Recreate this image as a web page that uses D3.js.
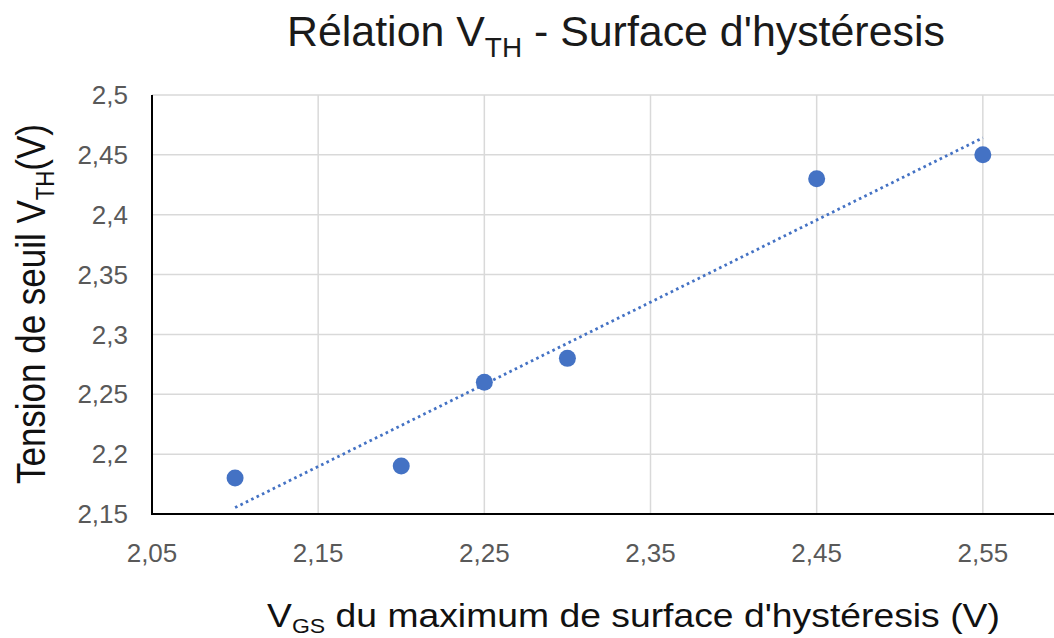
<!DOCTYPE html>
<html>
<head>
<meta charset="utf-8">
<script src="https://cdn.jsdelivr.net/npm/d3@7"></script>
<style>
  html, body { margin: 0; padding: 0; background: #fff; }
  svg { display: block; }
  text { font-family: "Liberation Sans", Arial, sans-serif; }
</style>
</head>
<body>
<svg id="chart" width="1054" height="638"></svg>
<script>
// ---- data ----
const xValues = [2.10, 2.20, 2.25, 2.30, 2.45, 2.55];
const yValues = [2.18, 2.19, 2.26, 2.28, 2.43, 2.45];
const xTicks = [2.05, 2.15, 2.25, 2.35, 2.45, 2.55, 2.65];
const yTicks = [2.15, 2.2, 2.25, 2.3, 2.35, 2.4, 2.45, 2.5];
const fmt = v => String(+v.toFixed(2)).replace(".", ",");

(function () {
const svg = d3.select("#chart");
const W = 1054, H = 638;
const pLeft = 152, pTop = 95, pBottom = 514, pRightFull = 1149;

const x = d3.scaleLinear().domain([2.05, 2.65]).range([pLeft, pRightFull]);
const y = d3.scaleLinear().domain([2.15, 2.5]).range([pBottom, pTop]);

svg.append("defs").append("clipPath").attr("id", "plotclip")
  .append("rect").attr("x", pLeft).attr("y", pTop - 2).attr("width", W - pLeft).attr("height", pBottom - pTop + 4);

const g = svg.append("g").attr("clip-path", "url(#plotclip)");

// grid lines
g.selectAll("line.hgrid").data(yTicks.filter(t => t > 2.15)).join("line")
  .attr("x1", pLeft).attr("x2", pRightFull)
  .attr("y1", d => y(d)).attr("y2", d => y(d))
  .attr("stroke", "#d9d9d9").attr("stroke-width", 1.5);
g.selectAll("line.vgrid").data(xTicks.filter(t => t > 2.05)).join("line")
  .attr("x1", d => x(d)).attr("x2", d => x(d))
  .attr("y1", pTop).attr("y2", pBottom)
  .attr("stroke", "#d9d9d9").attr("stroke-width", 1.5);

// trendline (least squares)
const mx = d3.mean(xValues), my = d3.mean(yValues);
const sxy = d3.sum(xValues, (v, i) => (v - mx) * (yValues[i] - my));
const sxx = d3.sum(xValues, v => (v - mx) * (v - mx));
const slope = sxy / sxx, icpt = my - slope * mx;
const x0 = d3.min(xValues), x1 = d3.max(xValues);
g.append("line")
  .attr("x1", x(x0)).attr("y1", y(slope * x0 + icpt))
  .attr("x2", x(x1)).attr("y2", y(slope * x1 + icpt))
  .attr("stroke", "#4472c4").attr("stroke-width", 2.8)
  .attr("stroke-dasharray", "2.6,3.4");

// points
g.selectAll("circle").data(xValues.map((v, i) => [v, yValues[i]])).join("circle")
  .attr("cx", d => x(d[0])).attr("cy", d => y(d[1]))
  .attr("r", 8.5).attr("fill", "#4472c4");

// axes lines
svg.append("line").attr("x1", pLeft).attr("x2", pLeft).attr("y1", pTop).attr("y2", pBottom + 1)
  .attr("stroke", "#000").attr("stroke-width", 2);
svg.append("line").attr("x1", pLeft - 1).attr("x2", W).attr("y1", pBottom).attr("y2", pBottom)
  .attr("stroke", "#000").attr("stroke-width", 2);

// tick labels
svg.selectAll("text.ytick").data(yTicks).join("text")
  .attr("class", "ytick")
  .attr("x", 128).attr("y", d => y(d)).attr("dy", "0.35em")
  .attr("text-anchor", "end").attr("font-size", 26).attr("fill", "#595959")
  .text(fmt);
svg.selectAll("text.xtick").data(xTicks.filter(t => x(t) < W - 20)).join("text")
  .attr("class", "xtick")
  .attr("x", d => x(d)).attr("y", 562)
  .attr("text-anchor", "middle").attr("font-size", 26).attr("fill", "#595959")
  .text(fmt);

// helper to squeeze text horizontally to target width
function fitText(sel, targetW, ax, ay, rotate) {
  const w = sel.node().getComputedTextLength();
  const s = targetW / w;
  sel.attr("transform", `translate(${ax},${ay})${rotate ? " rotate(-90)" : ""} scale(${s},1)`);
}

// title
const title = svg.append("text").attr("x", 0).attr("y", 0)
  .attr("font-size", 43).attr("fill", "#1a1a1a");
title.append("tspan").text("Rélation V");
title.append("tspan").attr("font-size", 28).attr("dy", 11).text("TH");
title.append("tspan").attr("dy", -11).text(" - Surface d'hystéresis");
fitText(title, 658, 287, 46, false);

// y axis title
const yt = svg.append("text").attr("x", 0).attr("y", 0)
  .attr("font-size", 41).attr("fill", "#111");
yt.append("tspan").text("Tension de seuil V");
yt.append("tspan").attr("font-size", 26).attr("dy", 9).text("TH");
yt.append("tspan").attr("dy", -9).text("(V)");
fitText(yt, 360, 45, 484, true);

// x axis title
const xt = svg.append("text").attr("x", 0).attr("y", 0)
  .attr("font-size", 34).attr("fill", "#111");
xt.append("tspan").text("V");
xt.append("tspan").attr("font-size", 21).attr("dy", 6).text("GS");
xt.append("tspan").attr("dy", -6).text(" du maximum de surface d'hystéresis  (V)");
fitText(xt, 733, 267, 627, false);
})();
</script>
</body>
</html>
